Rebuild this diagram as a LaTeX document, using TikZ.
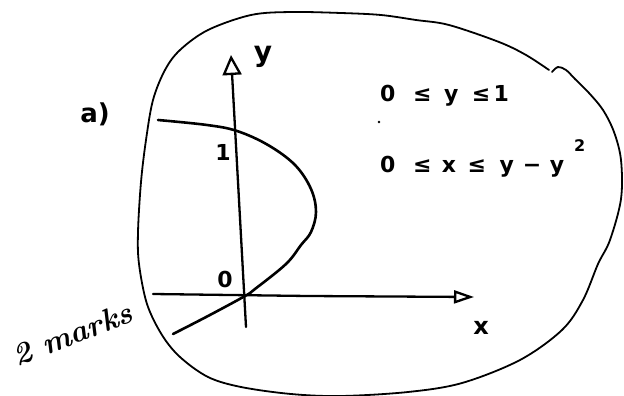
\documentclass[tikz,border=0pt]{standalone}
\usepackage{fontspec}
\newfontfamily\dv{DejaVu Sans}
\usetikzlibrary{arrows.meta}
\tikzset{
  outline/.style={line width=1.8pt, line cap=round, line join=round},
  axis/.style={line width=2.3pt, line cap=round},
  curve/.style={line width=2.6pt, line cap=round, line join=round},
  lbl/.style={inner sep=0pt, font=\dv\bfseries\fontsize{22}{26}\selectfont},
  ineq/.style={inner sep=0pt, anchor=base west, font=\dv\bfseries\fontsize{22}{26}\selectfont}
}
\begin{document}
\begin{tikzpicture}[x=1pt,y=-1pt]
\useasboundingbox (0,0) rectangle (624,396);
\fill[white] (0,0) rectangle (624,396);

% blob outline
\draw[outline] plot[smooth, tension=0.55] coordinates {
 (552,72) (558,67) (566,70) (575,79) (589,93) (603,110) (614,132) (621,160)
 (621,199) (610,240) (598,264) (583,300) (562,330) (520,360) (462,383)
 (408,392) (341,396) (291,394) (241,387) (208,377) (180,357) (162,335)
 (147,304) (139,264) (138,232) (141,182) (146,140) (153,100) (165,70)
 (180,50) (208,30) (251,15) (291,12) (341,13) (381,15) (416,20) (449,25)
 (499,42) (526,55) (549,70)};

% axes
\coordinate (ybot) at (246,327);
\coordinate (ytop) at (231,55);
\coordinate (xleft) at (153,294);
\coordinate (xmid) at (308,296);
\coordinate (xtip) at (474,297);
\draw[axis, -{Triangle[open, length=20pt, width=19pt]}] (ybot) -- (ytop);
\draw[axis, -{Triangle[open, length=20pt, width=13pt]}] (xleft) -- (xmid) -- (xtip);

% parabola
\draw[curve] plot[smooth, tension=0.6] coordinates {
 (158,120) (207,125) (237,131) (268,145) (295,165) (311,189) (316,212)
 (311,232) (301,245) (286,264) (255,289) (245,296) (208,316) (173,334)};

% labels
\node[lbl, font=\dv\bfseries\fontsize{28}{30}\selectfont] (ylab) at (263,57) {y};
\node[lbl] (one) at (223,152) {1};
\node[lbl] (zero) at (225,279) {0};
\node[lbl, font=\dv\bfseries\fontsize{24}{28}\selectfont] (xlab) at (481,328) {x};
\node[lbl, font=\dv\bfseries\fontsize{26}{30}\selectfont] (parta) at (95,114) {a)};
\node[inner sep=0pt, rotate=21, font=\bfseries\itshape\fontsize{31}{34}\selectfont] (marks) at (72,334) {2 marks};

\node[ineq] (line1) at (380,102) {0\hspace{17.5pt}≤\hspace{12.6pt}y\hspace{13.6pt}≤\hspace{3.2pt}1};
\node[ineq] (line2) at (380,172) {0\hspace{17.5pt}≤\hspace{10.5pt}x\hspace{11.5pt}≤\hspace{13.6pt}y\hspace{8.8pt}−\hspace{8.6pt}y\hspace{10pt}\raisebox{21pt}{\fontsize{16}{16}\selectfont 2}};

\fill (379,122) circle (1.4pt);
\end{tikzpicture}
\end{document}
